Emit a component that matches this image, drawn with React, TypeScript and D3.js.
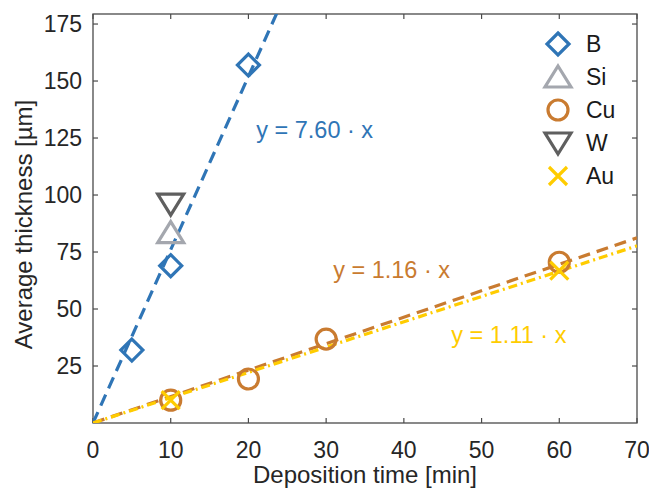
import React, { useEffect, useRef } from "react";
import * as d3 from "d3";

// deposition time [min] and average thickness [µm] per material
const bTime = [5, 10, 20];
const bThick = [32, 69, 157];
const siTime = [10];
const siThick = [83.5];
const wTime = [10];
const wThick = [96];
const cuTime = [10, 20, 30, 60];
const cuThick = [10, 19.3, 36.8, 70.5];
const auTime = [10, 60];
const auThick = [10, 66.8];

// linear fits through the origin
const fitSlopes = [7.6, 1.16, 1.11];
const fitLabels = ["y = 7.60 · x", "y = 1.16 · x", "y = 1.11 · x"];
const fitLabelAt = [
  [21, 128.5],
  [30.9, 67],
  [46.1, 38.6],
];

const legendNames = ["B", "Si", "Cu", "W", "Au"];
const xTicks = [0, 10, 20, 30, 40, 50, 60, 70];
const yTicks = [25, 50, 75, 100, 125, 150, 175];

const BLUE = "#2F75B6";
const SILVER = "#A4A7AE";
const ORANGE = "#C97B30";
const DARK = "#5F5F5F";
const GOLD = "#FFCC00";

const FONT = "'Liberation Sans', Arial, Helvetica, sans-serif";

// marker outlines, centred on 0,0
const markerPath = (kind: string): string => {
  const p = d3.path();
  if (kind === "diamond") {
    p.moveTo(0, -11); p.lineTo(11, 0); p.lineTo(0, 11); p.lineTo(-11, 0); p.closePath();
  } else if (kind === "up") {
    p.moveTo(0, -11); p.lineTo(13, 10); p.lineTo(-13, 10); p.closePath();
  } else if (kind === "down") {
    p.moveTo(0, 11); p.lineTo(13, -10); p.lineTo(-13, -10); p.closePath();
  } else if (kind === "circle") {
    p.arc(0, 0, 10, 0, Math.PI * 2);
  } else {
    p.moveTo(-9, -9); p.lineTo(9, 9); p.moveTo(9, -9); p.lineTo(-9, 9);
  }
  return p.toString();
};

const App = () => {
  const ref = useRef<SVGSVGElement>(null);

  useEffect(() => {
    const width = 649;
    const height = 489;
    const m = { left: 93, right: 12, top: 14, bottom: 66 };

    const svg = d3.select(ref.current).attr("width", width).attr("height", height);
    svg.selectAll("*").remove();

    const x = d3.scaleLinear().domain([0, 70]).range([m.left, width - m.right]);
    const y = d3.scaleLinear().domain([0, 179.4]).range([height - m.bottom, m.top]);

    svg.append("rect").attr("width", width).attr("height", height).attr("fill", "white");

    svg
      .append("clipPath")
      .attr("id", "plotclip")
      .append("rect")
      .attr("x", m.left)
      .attr("y", m.top)
      .attr("width", width - m.left - m.right)
      .attr("height", height - m.top - m.bottom);

    // axes box with inward ticks on all sides
    const axisColor = "#4a4a4a";
    const box = svg.append("g");
    box
      .append("rect")
      .attr("x", m.left)
      .attr("y", m.top)
      .attr("width", width - m.left - m.right)
      .attr("height", height - m.top - m.bottom)
      .attr("fill", "none")
      .attr("stroke", axisColor)
      .attr("stroke-width", 1.3);

    const tl = 5;
    xTicks.forEach((t) => {
      box.append("line").attr("x1", x(t)).attr("x2", x(t)).attr("y1", y(0)).attr("y2", y(0) - tl)
        .attr("stroke", axisColor).attr("stroke-width", 1.2);
      box.append("line").attr("x1", x(t)).attr("x2", x(t)).attr("y1", m.top).attr("y2", m.top + tl)
        .attr("stroke", axisColor).attr("stroke-width", 1.2);
      box.append("text").attr("x", x(t)).attr("y", y(0) + 35).attr("text-anchor", "middle")
        .attr("font-family", FONT).attr("font-size", 23).attr("fill", "#262626").text(t);
    });
    yTicks.forEach((t) => {
      box.append("line").attr("x1", x(0)).attr("x2", x(0) + tl).attr("y1", y(t)).attr("y2", y(t))
        .attr("stroke", axisColor).attr("stroke-width", 1.2);
      box.append("line").attr("x1", x(70)).attr("x2", x(70) - tl).attr("y1", y(t)).attr("y2", y(t))
        .attr("stroke", axisColor).attr("stroke-width", 1.2);
      box.append("text").attr("x", x(0) - 11).attr("y", y(t) + 8).attr("text-anchor", "end")
        .attr("font-family", FONT).attr("font-size", 23).attr("fill", "#262626").text(t);
    });

    svg
      .append("text")
      .attr("x", (x(0) + x(70)) / 2)
      .attr("y", 483)
      .attr("text-anchor", "middle")
      .attr("font-family", FONT)
      .attr("font-size", 24)
      .attr("fill", "#262626")
      .text("Deposition time [min]");

    svg
      .append("text")
      .attr("transform", `translate(32,${(y(0) + m.top) / 2 + 6}) rotate(-90)`)
      .attr("text-anchor", "middle")
      .attr("font-family", FONT)
      .attr("font-size", 24)
      .attr("fill", "#262626")
      .text("Average thickness [µm]");

    // fit lines
    const plot = svg.append("g").attr("clip-path", "url(#plotclip)");
    const fitColors = [BLUE, ORANGE, GOLD];
    const fitDash = ["12,7", "12,7", "9,4,2,4"];
    const line = d3.line<number>().x((d) => x(d[0])).y((d) => y(d[1]));
    fitSlopes.forEach((k, i) => {
      plot
        .append("path")
        .attr("d", line([[0, 0], [70, 70 * k]] as any))
        .attr("fill", "none")
        .attr("stroke", fitColors[i])
        .attr("stroke-width", 3.2)
        .attr("stroke-dasharray", fitDash[i]);
    });

    // data markers
    const series = [
      { t: bTime, v: bThick, kind: "diamond", color: BLUE },
      { t: siTime, v: siThick, kind: "up", color: SILVER },
      { t: cuTime, v: cuThick, kind: "circle", color: ORANGE },
      { t: wTime, v: wThick, kind: "down", color: DARK },
      { t: auTime, v: auThick, kind: "x", color: GOLD },
    ];
    series.forEach((s) => {
      plot
        .append("g")
        .selectAll("path")
        .data(s.t)
        .join("path")
        .attr("transform", (d, i) => `translate(${x(d)},${y(s.v[i])})`)
        .attr("d", markerPath(s.kind))
        .attr("fill", "none")
        .attr("stroke", s.color)
        .attr("stroke-width", 3.2);
    });

    // fit equations
    fitLabels.forEach((lab, i) => {
      svg
        .append("text")
        .attr("x", x(fitLabelAt[i][0]))
        .attr("y", y(fitLabelAt[i][1]) + 8)
        .attr("font-family", FONT)
        .attr("font-size", 23.5)
        .attr("fill", fitColors[i])
        .text(lab);
    });

    // legend
    const legend = svg.append("g").attr("transform", "translate(558,44)");
    series.forEach((s, i) => {
      const row = legend.append("g").attr("transform", `translate(0,${i * 33})`);
      row.append("path").attr("d", markerPath(s.kind)).attr("fill", "none")
        .attr("stroke", s.color).attr("stroke-width", 3.2);
      row.append("text").attr("x", 28).attr("y", 8).attr("font-family", FONT)
        .attr("font-size", 23).attr("fill", "#1a1a1a").text(legendNames[i]);
    });
  });

  return (
    <div>
      <svg ref={ref} style={{ position: "absolute", left: 0, top: 0 }}></svg>
    </div>
  );
};

export default App;
